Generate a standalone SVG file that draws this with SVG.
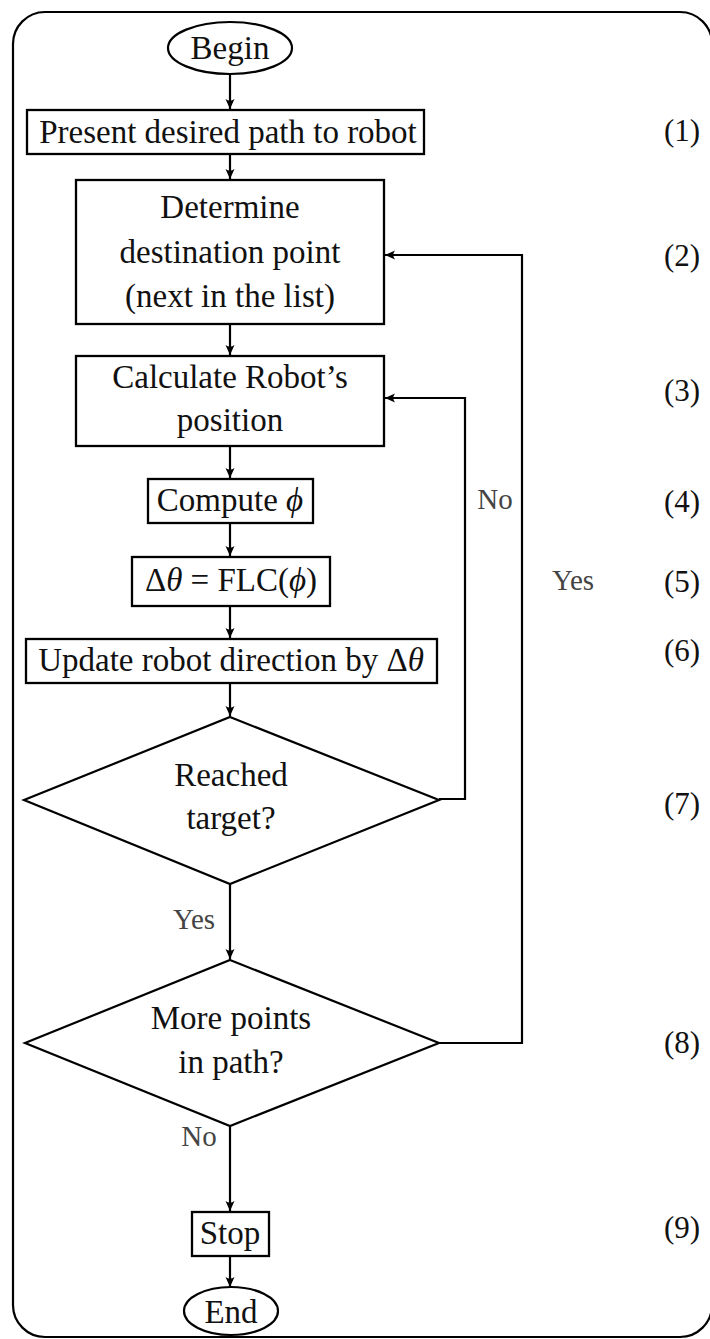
<svg xmlns="http://www.w3.org/2000/svg" width="710" height="1339" viewBox="0 0 710 1339">
<style>
text{font-family:"Liberation Serif","Times New Roman",serif;font-size:33px;fill:#111;text-anchor:middle}
.box{fill:#fff;stroke:#000;stroke-width:2.3}
.lbl{font-size:29px;fill:#444}
.num{font-size:31px}
.it{font-style:italic}
.cn{fill:none;stroke:#000;stroke-width:2.2}
</style>
<defs>
<marker id="ah" viewBox="-11 -6 12 12" refX="0" refY="0" markerWidth="12" markerHeight="12" markerUnits="userSpaceOnUse" orient="auto">
<path d="M0,0 L-10,-4.5 Q-6.5,0 -10,4.5 Z" fill="#000"/>
</marker>
</defs>
<rect x="0" y="0" width="710" height="1339" fill="#fff"/>
<rect id="frame" x="13" y="12" width="699" height="1325" rx="32" ry="32" fill="none" stroke="#000" stroke-width="2.2"/>

<g id="connectors">
<path class="cn" d="M230,75 V109" marker-end="url(#ah)"/>
<path class="cn" d="M230,154 V179" marker-end="url(#ah)"/>
<path class="cn" d="M230,324 V355" marker-end="url(#ah)"/>
<path class="cn" d="M230,446 V478" marker-end="url(#ah)"/>
<path class="cn" d="M230,523 V556" marker-end="url(#ah)"/>
<path class="cn" d="M230,606 V638" marker-end="url(#ah)"/>
<path class="cn" d="M230,683 V716" marker-end="url(#ah)"/>
<path class="cn" d="M230,884 V959" marker-end="url(#ah)"/>
<path class="cn" d="M230,1126 V1211" marker-end="url(#ah)"/>
<path class="cn" d="M230,1256 V1287" marker-end="url(#ah)"/>
<path class="cn" d="M439,799 H465 V398 H385" marker-end="url(#ah)"/>
<path class="cn" d="M439,1043 H522 V255 H385" marker-end="url(#ah)"/>
<text class="lbl" x="495" y="509">No</text>
<text class="lbl" x="573" y="590">Yes</text>
<text class="lbl" x="194" y="929">Yes</text>
<text class="lbl" x="199" y="1146">No</text>
</g>

<g id="n-begin">
<ellipse cx="230" cy="48" rx="62" ry="26" fill="#fff" stroke="#000" stroke-width="2.2"/>
<text x="230" y="59">Begin</text>
</g>
<g id="n1">
<rect class="box" x="27" y="110" width="397" height="44"/>
<text x="228" y="143">Present desired path to robot</text>
</g>
<g id="n2">
<rect class="box" x="76" y="180" width="308" height="144"/>
<text x="230" y="218">Determine</text>
<text x="230" y="263">destination point</text>
<text x="230" y="307">(next in the list)</text>
</g>
<g id="n3">
<rect class="box" x="76" y="356" width="308" height="90"/>
<text x="230" y="388">Calculate Robot’s</text>
<text x="230" y="431">position</text>
</g>
<g id="n4">
<rect class="box" x="148" y="479" width="165" height="44"/>
<text x="230" y="511">Compute <tspan class="it">ϕ</tspan></text>
</g>
<g id="n5">
<rect class="box" x="132" y="557" width="198" height="49"/>
<text x="231" y="591">Δ<tspan class="it">θ</tspan> = FLC(<tspan class="it">ϕ</tspan>)</text>
</g>
<g id="n6">
<rect class="box" x="26" y="639" width="411" height="44"/>
<text x="231" y="671">Update robot direction by Δ<tspan class="it">θ</tspan></text>
</g>
<g id="n7">
<polygon points="230,717 439,800 230,884 24,800" fill="#fff" stroke="#000" stroke-width="2.2"/>
<text x="231" y="786">Reached</text>
<text x="231" y="829">target?</text>
</g>
<g id="n8">
<polygon points="230,960 439,1043 230,1126 25,1043" fill="#fff" stroke="#000" stroke-width="2.2"/>
<text x="231" y="1029">More points</text>
<text x="231" y="1073">in path?</text>
</g>
<g id="n9">
<rect class="box" x="192" y="1212" width="77" height="44"/>
<text x="230" y="1244">Stop</text>
</g>
<g id="n-end">
<ellipse cx="231" cy="1311" rx="47" ry="24" fill="#fff" stroke="#000" stroke-width="2.2"/>
<text x="231" y="1323">End</text>
</g>

<g id="step-numbers">
<text class="num" x="682" y="141">(1)</text>
<text class="num" x="682" y="266">(2)</text>
<text class="num" x="682" y="401">(3)</text>
<text class="num" x="682" y="512">(4)</text>
<text class="num" x="682" y="592">(5)</text>
<text class="num" x="682" y="661">(6)</text>
<text class="num" x="682" y="814">(7)</text>
<text class="num" x="682" y="1053">(8)</text>
<text class="num" x="682" y="1238">(9)</text>
</g>
</svg>
